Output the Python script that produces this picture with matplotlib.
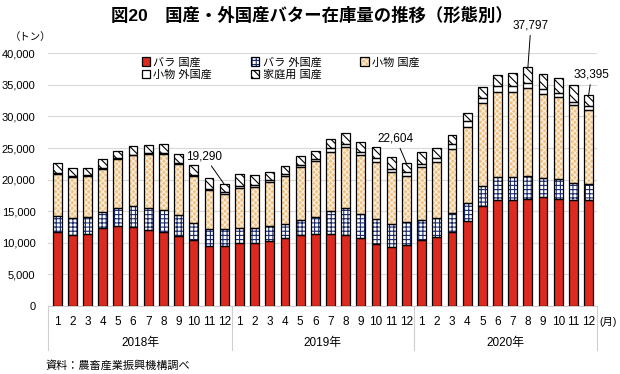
import matplotlib
matplotlib.use("Agg")
import matplotlib.pyplot as plt
from matplotlib.patches import Patch
from matplotlib.legend_handler import HandlerTuple
from matplotlib.transforms import blended_transform_factory
import numpy as np

plt.rcParams['font.family'] = ['Liberation Sans', 'Noto Sans CJK JP', 'DejaVu Sans']
plt.rcParams['hatch.linewidth'] = 0.8

# data (tonnes), Jan 2018 - Dec 2020
months = [str(m) for m in range(1, 13)] * 3
years = ["2018年", "2019年", "2020年"]
bulk_domestic = [11700, 11300, 11470, 12310, 12730, 12570, 12100, 11730, 11100, 10520, 9570, 9520,
                 9990, 9990, 10360, 10840, 11310, 11470, 11410, 11310, 10840, 9890, 9310, 9730,
                 10400, 10870, 11720, 13400, 15780, 16830, 16830, 16990, 17200, 16990, 16730, 16830]
bulk_foreign = [2610, 2690, 2630, 2630, 2790, 3320, 3470, 3420, 3370, 2680, 2580, 2630,
                2420, 2420, 2370, 2200, 2370, 2680, 3690, 4210, 3780, 3940, 3680, 3630,
                3270, 3010, 2950, 2850, 3220, 3540, 3540, 3540, 3010, 3120, 2690, 2430]
small_domestic = [6630, 6470, 6470, 6780, 7680, 7940, 8470, 8940, 8040, 7370, 6150, 5630,
                  6260, 6420, 6940, 7580, 8310, 8840, 9250, 9680, 9310, 8950, 8260, 7260,
                  8280, 8860, 10130, 12040, 13080, 13460, 13460, 13930, 13300, 12920, 12350, 11720]
small_foreign = [150, 150, 150, 150, 150, 150, 150, 150, 150, 150, 270, 210,
                 370, 320, 320, 260, 310, 310, 640, 470, 420, 680, 470, 580,
                 580, 740, 900, 940, 900, 1000, 1000, 790, 840, 690, 580, 630]
household = [1580, 1270, 1160, 1330, 1210, 1270, 1320, 1430, 1330, 1640, 1680, 1300,
             1890, 1570, 1260, 1260, 1480, 1210, 1470, 1730, 1580, 1680, 1840, 1404,
             1800, 1480, 1320, 1270, 1640, 1690, 2110, 2547, 2330, 2430, 2580, 1785]
callouts = {11: "19,290", 23: "22,604", 31: "37,797", 35: "33,395"}

labels = ["バラ 国産", "バラ 外国産", "小物 国産", "小物 外国産", "家庭用 国産"]
series = [bulk_domestic, bulk_foreign, small_domestic, small_foreign, household]
faces = ["#dc2a1e", "white", "#efc283", "white", "white"]
hatches = [None, "++++", "xxxxxx", None, "\\\\\\\\"]
hatch_cols = ["#dc2a1e", "#1a2a6c", "#fcefdc", "white", "black"]

fig = plt.figure(figsize=(6.2, 3.74), dpi=100)
ax = fig.add_axes([48 / 620, 68 / 374, 549 / 620, 252.7 / 374])

x = np.arange(36)
w = 0.58
bottom = np.zeros(36)
handles = []
for vals, lab, fc, h, hc in zip(series, labels, faces, hatches, hatch_cols):
    vals = np.array(vals, dtype=float)
    ax.bar(x, vals, w, bottom=bottom, color=fc, hatch=h, edgecolor=hc, linewidth=0, zorder=3)
    ax.bar(x, vals, w, bottom=bottom, fill=False, edgecolor="black", linewidth=0.9, zorder=4)
    bottom += vals
    handles.append((Patch(facecolor=fc, hatch=h, edgecolor=hc, linewidth=0),
                    Patch(fill=False, edgecolor="black", linewidth=0.9)))

ax.set_xlim(-0.6, 35.55)
ax.set_ylim(0, 40000)
ax.set_yticks(range(0, 40001, 5000))
ax.set_yticklabels([f"{v:,}" for v in range(0, 40001, 5000)], fontsize=8)
ax.tick_params(axis="y", length=0, pad=9)
ax.set_xticks([])
ax.grid(axis="y", color="#d9d9d9", linewidth=0.8, zorder=0)
for s in ["top", "right", "left"]:
    ax.spines[s].set_visible(False)
ax.spines["bottom"].set_color("#cfcfcf")
ax.spines["bottom"].set_linewidth(0.8)

tr = blended_transform_factory(ax.transData, ax.transAxes)
py = lambda p: (306 - p) / 252.7
for i, m in enumerate(months):
    ax.text(i, py(322), m, transform=tr, ha="center", va="center", fontsize=8.5)
for k, yl in enumerate(years):
    ax.text(k * 12 + 5.5, py(343), yl, transform=tr, ha="center", va="center", fontsize=8.5)
for xs in [-0.6, 11.5, 23.5, 35.55]:
    ax.plot([xs, xs], [0, py(350)], transform=tr, color="#cfcfcf", lw=0.8, clip_on=False)
ax.text(35.7, py(322), "(月)", transform=tr, ha="left", va="center", fontsize=7.5)

# value callouts
tops = bottom
offsets = {11: (-1.3, 3500), 23: (-0.7, 3000), 31: (0.2, 5700), 35: (0.2, 2300)}
for i, txt in callouts.items():
    dx, dy = offsets[i]
    ax.annotate(txt, xy=(i, tops[i]), xytext=(i + dx, tops[i] + dy), ha="center", va="bottom",
                fontsize=8.5, annotation_clip=False,
                arrowprops=dict(arrowstyle="-", color="black", lw=0.7, shrinkA=1, shrinkB=0))

order = [0, 3, 1, 4, 2]
ax.legend([handles[j] for j in order], [labels[j] for j in order], ncol=3,
          loc="upper left", bbox_to_anchor=(86 / 549, 1.0 + 4 / 252.7), frameon=False,
          fontsize=8, handlelength=0.75, handleheight=0.75, handletextpad=0.3,
          columnspacing=3.5, labelspacing=0.2, borderpad=0.2,
          handler_map={tuple: HandlerTuple(ndivide=1, pad=0)})

fig.text(312 / 620, 1 - 15 / 374, "図20　国産・外国産バター在庫量の推移（形態別）",
         ha="center", va="center", fontsize=12.5, fontweight="bold")
fig.text(10 / 620, 1 - 37 / 374, "（トン）", ha="left", va="center", fontsize=7.5)
fig.text(45 / 620, 1 - 365 / 374, "資料：農畜産業振興機構調べ", ha="left", va="center", fontsize=8)

fig.savefig("out.png", dpi=100)
